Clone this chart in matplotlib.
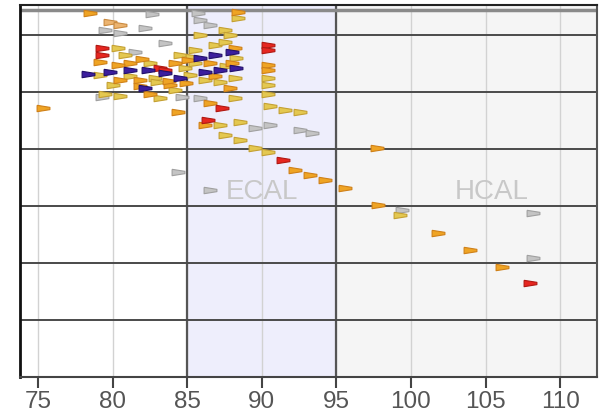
import matplotlib
matplotlib.use("Agg")
import matplotlib.pyplot as plt

plt.rcParams['font.family'] = ['Liberation Sans', 'DejaVu Sans']

# ---- data (x in axis units, y in row units, colour class) ----
hit_x = [78.49, 79.83, 80.50, 82.64, 82.17, 79.49, 80.50, 85.72, 85.86, 86.53,
         88.40, 88.40, 87.53, 85.86, 87.87, 86.86, 87.53, 88.20,
         79.29, 79.29, 79.16, 80.36, 80.83, 81.50, 83.51,
         90.42, 90.42, 90.42, 90.42, 90.42, 90.42, 90.42,
         79.16, 80.50, 81.84, 82.84, 83.85, 83.18, 83.51, 85.05, 85.19, 86.19,
         87.20, 87.87, 81.84, 84.18, 84.85, 85.52, 82.51, 81.17, 84.52, 85.52,
         86.53, 88.00, 88.20, 80.36,
         78.35, 79.83, 81.17, 82.37, 83.51, 84.52, 85.86, 86.86, 88.00, 86.19,
         87.20, 88.27, 82.17,
         79.29, 79.49, 80.50, 82.51, 83.18, 84.18, 84.65, 85.86, 86.53, 87.33,
         88.20, 84.38, 75.34, 86.39, 86.19, 87.20, 88.54, 89.54, 90.55, 91.55,
         92.56, 90.55, 92.56, 93.36, 87.53, 88.54, 89.54, 90.42, 91.42, 92.22,
         93.23, 94.24, 95.58, 97.72, 97.79, 99.40, 99.26, 101.81, 103.95, 106.10,
         107.98, 108.18, 108.18, 84.38, 86.53,
         81.2, 83.0, 84.9, 86.9, 88.3, 80.0, 82.0, 87.6, 85.3, 83.8]
hit_y = [6.39, 6.23, 6.18, 6.37, 6.12, 6.09, 6.04, 6.39, 6.26, 6.18,
         6.40, 6.30, 6.09, 6.00, 6.00, 5.82, 5.88, 5.77,
         5.77, 5.65, 5.53, 5.77, 5.65, 5.70, 5.86,
         5.82, 5.74, 5.47, 5.39, 5.25, 5.12, 4.96,
         5.30, 5.21, 5.21, 5.25, 5.12, 5.42, 5.39, 5.56, 5.30, 5.21,
         5.18, 5.07, 5.11, 5.51, 5.42, 5.51, 5.51, 5.51, 5.65, 5.74,
         5.51, 5.51, 5.25, 5.47,
         5.32, 5.35, 5.39, 5.39, 5.33, 5.25, 5.60, 5.65, 5.70, 5.35,
         5.39, 5.42, 5.07,
         4.91, 4.96, 4.93, 4.96, 4.89, 5.04, 4.91, 4.89, 4.81, 4.72,
         4.89, 4.65, 4.72, 4.51, 4.42, 4.42, 4.47, 4.37, 4.75, 4.68,
         4.65, 4.42, 4.33, 4.28, 4.25, 4.16, 4.02, 3.95, 3.81, 3.63,
         3.54, 3.46, 3.32, 4.02, 3.02, 2.93, 2.84, 2.53, 2.23, 1.93,
         1.65, 2.88, 2.09, 3.60, 3.28,
         5.28, 5.18, 5.16, 5.28, 5.60, 5.12, 5.58, 5.46, 5.62, 5.20]
hit_cls = ['O', 'T', 'T', 'G', 'G', 'G', 'G', 'G', 'G', 'G',
           'O', 'Y', 'Y', 'Y', 'Y', 'Y', 'Y', 'O',
           'R', 'R', 'O', 'Y', 'Y', 'G', 'G',
           'R', 'R', 'O', 'O', 'Y', 'Y', 'Y',
           'Y', 'O', 'O', 'Y', 'O', 'R', 'R', 'O', 'Y', 'Y',
           'Y', 'O', 'O', 'O', 'Y', 'Y', 'Y', 'O', 'Y', 'Y',
           'O', 'O', 'Y', 'O',
           'B', 'B', 'B', 'B', 'B', 'B', 'B', 'B', 'B', 'B',
           'B', 'B', 'B',
           'G', 'Y', 'Y', 'O', 'Y', 'Y', 'G', 'G', 'O', 'R',
           'Y', 'O', 'O', 'R', 'O', 'Y', 'Y', 'G', 'Y', 'Y',
           'Y', 'G', 'G', 'G', 'Y', 'Y', 'Y', 'Y', 'R', 'O',
           'O', 'O', 'O', 'O', 'O', 'G', 'Y', 'O', 'O', 'O',
           'R', 'G', 'G', 'G', 'G',
           'Y', 'Y', 'O', 'O', 'Y', 'Y', 'O', 'Y', 'Y', 'O']

x_ticks = [75, 80, 85, 90, 95, 100, 105, 110]
row_lines = [0, 1, 2, 3, 4, 5, 6]
ecal_range = (85, 95)
hcal_start = 95
region_labels = ['ECAL', 'HCAL']
region_label_x = [90.0, 105.4]
region_label_y = 3.25

fill = {'R': '#e62620', 'O': '#efa424', 'Y': '#e4c850', 'G': '#c4c4c4',
        'B': '#3c1e9e', 'T': '#ecb470'}
edge = {'R': '#b01812', 'O': '#cf8018', 'Y': '#c4a032', 'G': '#a0a0a0',
        'B': '#22106a', 'T': '#c98a40'}
draw_order = ['T', 'G', 'Y', 'O', 'R', 'B']

wedge = [(-1, 0.5), (1, 0.18), (1, -0.18), (-1, -0.5), (-1, 0.5)]

fig = plt.figure(figsize=(6.04, 4.19), dpi=100)
ax = fig.add_axes([20 / 604, 1 - 377 / 419, 577 / 604, 372 / 419])
xmin, xmax = 73.8, 112.47
ymin, ymax = 0.0, 6.53
ax.set_xlim(xmin, xmax)
ax.set_ylim(ymin, ymax)

ax.axvspan(ecal_range[0], ecal_range[1], color='#eeeefc', zorder=0, lw=0)
ax.axvspan(hcal_start, xmax, color='#f5f5f5', zorder=0, lw=0)

for xv in x_ticks:
    ax.axvline(xv, color='#d2d2d2', lw=1.0, zorder=1)
for xv in ecal_range:
    ax.axvline(xv, color='#555555', lw=1.6, zorder=2)
for yv in row_lines:
    ax.axhline(yv, color='#4a4a4a', lw=1.4, zorder=2)
ax.axhline(6.44, color='#8a8a8a', lw=2.5, zorder=2)

for lab, lx in zip(region_labels, region_label_x):
    ax.text(lx, region_label_y, lab, ha='center', va='center', fontsize=20,
            color='#c8c8c8', zorder=3)

for cls in draw_order:
    xs = [x for x, c in zip(hit_x, hit_cls) if c == cls]
    ys = [y for y, c in zip(hit_y, hit_cls) if c == cls]
    ax.scatter(xs, ys, marker=wedge, s=85, c=fill[cls], edgecolors=edge[cls],
               linewidths=0.8, zorder=4)

ax.set_xticks(x_ticks)
ax.set_xticklabels([str(t) for t in x_ticks])
ax.set_yticks([])
ax.tick_params(axis='x', direction='out', length=8, width=1.5, color='#444444',
               labelsize=17.5, labelcolor='#555555', pad=2)

ax.spines['left'].set_color('#111111')
ax.spines['left'].set_linewidth(2)
ax.spines['top'].set_color('#222222')
ax.spines['top'].set_linewidth(1.5)
ax.spines['right'].set_color('#555555')
ax.spines['right'].set_linewidth(1.5)
ax.spines['bottom'].set_color('#444444')
ax.spines['bottom'].set_linewidth(1.5)

fig.savefig('out.png', dpi=100)
